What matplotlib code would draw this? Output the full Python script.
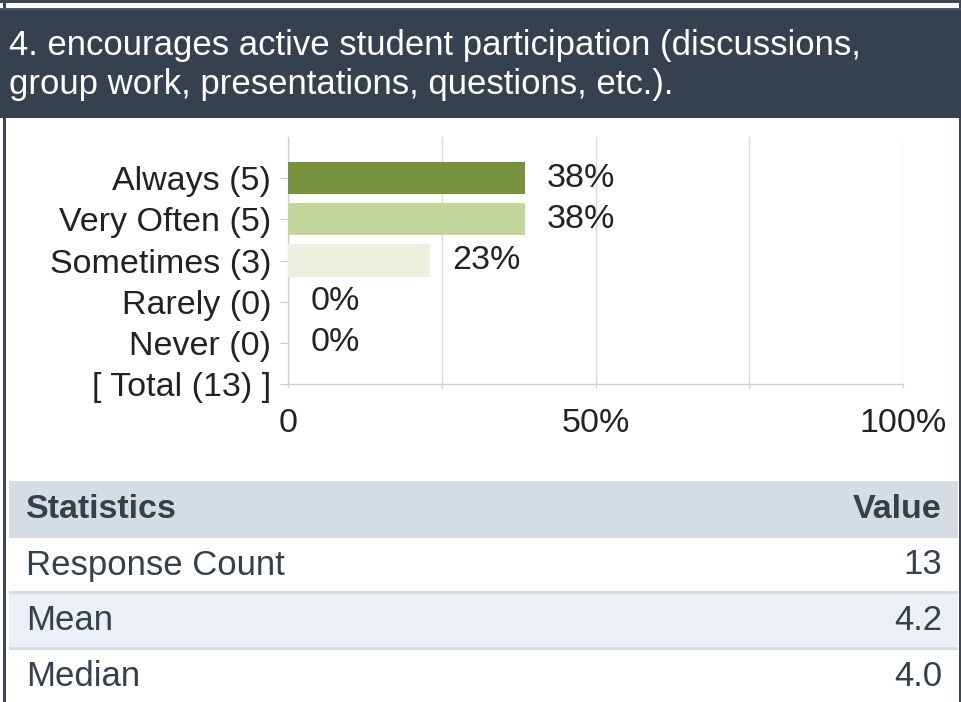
import matplotlib
matplotlib.use("Agg")
import matplotlib.pyplot as plt
from matplotlib.patches import Rectangle
from matplotlib.ticker import FixedLocator

plt.rcParams['font.family'] = ['Liberation Sans', 'DejaVu Sans']

# data
title_lines = ["4. encourages active student participation (discussions,",
               "group work, presentations, questions, etc.)."]
categories = ["Always (5)", "Very Often (5)", "Sometimes (3)",
              "Rarely (0)", "Never (0)", "[ Total (13) ]"]
percents = [38.5, 38.5, 23.1, 0, 0]
pct_labels = ["38%", "38%", "23%", "0%", "0%"]
bar_colors = ["#76923c", "#c3d69b", "#ebf1de", "#ebf1de", "#ebf1de"]
x_ticks = [0, 50, 100]
x_ticklabels = ["0", "50%", "100%"]
stat_names = ["Response Count", "Mean", "Median"]
stat_values = ["13", "4.2", "4.0"]

W, H = 962, 702
fig = plt.figure(figsize=(W / 100, H / 100), dpi=100)
fig.patch.set_facecolor("white")

# background layer in pixel coords
bg = fig.add_axes([0, 0, 1, 1])
bg.set_xlim(0, W)
bg.set_ylim(H, 0)
bg.axis("off")

dark = "#36414f"
navy = "#34404e"
# top strip and borders
bg.add_patch(Rectangle((0, 0), 961, 3, color="#3c4756", lw=0))
bg.add_patch(Rectangle((3.5, 0), 3, H, color="#3c4756", lw=0))
bg.add_patch(Rectangle((959, 0), 2, H, color="#3c4756", lw=0))
# header box
bg.add_patch(Rectangle((0, 8), W, 110, color=dark, lw=0))
bg.add_patch(Rectangle((0, 8), W, 2, color="#4a5667", lw=0))
bg.text(9, 55, title_lines[0], color="white", fontsize=25, va="baseline")
bg.text(9, 94, title_lines[1], color="white", fontsize=25, va="baseline")

# statistics table
bg.add_patch(Rectangle((9, 481), 949, 57, color="#d6dde2", lw=0))
bg.add_patch(Rectangle((9, 591), 949, 3, color="#d6dde2", lw=0))
bg.add_patch(Rectangle((9, 594), 949, 53, color="#ebf0f4", lw=0))
bg.add_patch(Rectangle((9, 647), 949, 3, color="#d6dde2", lw=0))
bg.text(26, 510, "Statistics", color=navy, fontsize=24.5, fontweight="bold", va="center")
bg.text(942, 510, "Value", color=navy, fontsize=24.5, fontweight="bold", va="center", ha="right")
row_y = [565, 621, 677]
for name, val, yy in zip(stat_names, stat_values, row_y):
    bg.text(26, yy, name, color=navy, fontsize=25, va="center")
    bg.text(942, yy, val, color=navy, fontsize=25, va="center", ha="right")

# bar chart
ax = fig.add_axes([288 / W, (H - 384) / H, 615 / W, 247 / H])
ax.set_facecolor("none")
ypos = [5, 4, 3, 2, 1, 0]
ax.barh(ypos[:5], percents, height=0.78, color=bar_colors, zorder=3)
for y, p, lab in zip(ypos[:5], percents, pct_labels):
    ax.annotate(lab, (p, y), xytext=(16, 0), textcoords="offset points",
                va="center", ha="left", fontsize=24.5, color="#222222")
ax.set_xlim(0, 100)
ax.set_ylim(0, 6)
ax.set_yticks(ypos)
ax.set_yticklabels(categories, fontsize=24.5, color="#222222")
ax.xaxis.set_major_locator(FixedLocator(x_ticks))
ax.set_xticklabels(x_ticklabels, fontsize=24.5, color="#222222")
ax.xaxis.set_minor_locator(FixedLocator([25, 75]))
ax.grid(axis="x", which="both", color="#dadada", lw=1.0, zorder=0)
for s in ["top", "right"]:
    ax.spines[s].set_visible(False)
for s in ["left", "bottom"]:
    ax.spines[s].set_color("#d0d0d0")
    ax.spines[s].set_linewidth(1.0)
ax.tick_params(axis="y", length=6, width=0.8, color="#c8c8c8", pad=6)
ax.tick_params(axis="x", which="both", length=3, width=0.8, color="#d0d0d0", pad=14)

fig.savefig("out.png", dpi=100)
